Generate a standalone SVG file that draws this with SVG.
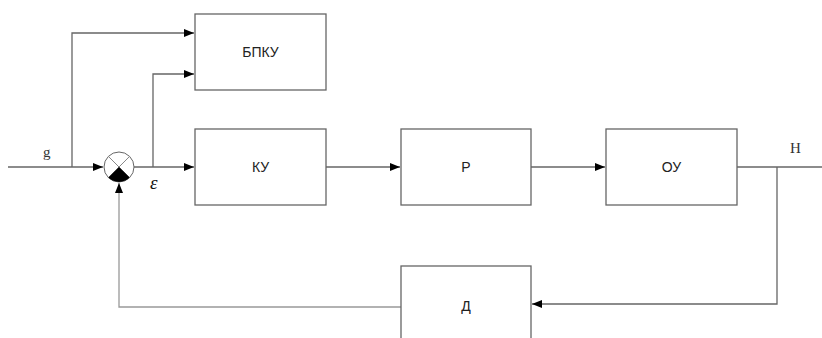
<svg xmlns="http://www.w3.org/2000/svg" width="822" height="338" viewBox="0 0 822 338">
<style>
.box{fill:#fff;stroke:#666;stroke-width:1.3}
.ln{fill:none;stroke:#666;stroke-width:1.3}
.fb{fill:none;stroke:#999;stroke-width:1.3}
.lbl{font-family:"Liberation Sans",Arial,sans-serif;font-size:14px;fill:#222;text-anchor:middle;dominant-baseline:central}
.ser{font-family:"Liberation Serif","Times New Roman",serif;font-size:15px;fill:#333}
</style>
<defs>
<marker id="ah" markerUnits="userSpaceOnUse" markerWidth="10" markerHeight="10" viewBox="0 0 10 10" refX="10" refY="5" orient="auto">
<path d="M0,1 L10,5 L0,9 Z" fill="#000"/>
</marker>
</defs>
<rect width="822" height="338" fill="#fff"/>
<g id="connectors">
<path class="ln" d="M8,167 H103" marker-end="url(#ah)"/>
<path class="ln" d="M72,167 V33 H194" marker-end="url(#ah)"/>
<path class="ln" d="M134,167 H194" marker-end="url(#ah)"/>
<path class="ln" d="M153,167 V74 H194" marker-end="url(#ah)"/>
<path class="ln" d="M326,167 H400" marker-end="url(#ah)"/>
<path class="ln" d="M531,167 H605" marker-end="url(#ah)"/>
<path class="ln" d="M737,167 H822"/>
<path class="ln" d="M777,167 V304 H532" marker-end="url(#ah)"/>
<path class="fb" d="M401,307 H119 V183" marker-end="url(#ah)"/>
</g>
<g id="sum">
<circle cx="119" cy="167" r="15" fill="#fff" stroke="#666" stroke-width="1"/>
<path d="M108.4,156.4 L129.6,177.6 M129.6,156.4 L108.4,177.6" stroke="#888" stroke-width="1"/>
<path d="M119,167 L129.6,177.6 A15,15 0 0 1 108.4,177.6 Z" fill="#000"/>
</g>
<g id="bpku"><rect class="box" x="195" y="14" width="131" height="76"/><text class="lbl" x="260.5" y="52">БПКУ</text></g>
<g id="ku"><rect class="box" x="195" y="129" width="131" height="76"/><text class="lbl" x="260.5" y="167">КУ</text></g>
<g id="r"><rect class="box" x="401" y="129" width="130" height="76"/><text class="lbl" x="466" y="167">Р</text></g>
<g id="ou"><rect class="box" x="606" y="129" width="131" height="76"/><text class="lbl" x="671.5" y="167">ОУ</text></g>
<g id="d"><rect class="box" x="401" y="266" width="130" height="80"/><text class="lbl" x="466" y="306">Д</text></g>
<text class="ser" x="43" y="157">g</text>
<text class="ser" x="790" y="153">H</text>
<text x="150" y="189" font-family="Liberation Serif,serif" font-style="italic" font-size="19" fill="#111">ε</text>
</svg>
